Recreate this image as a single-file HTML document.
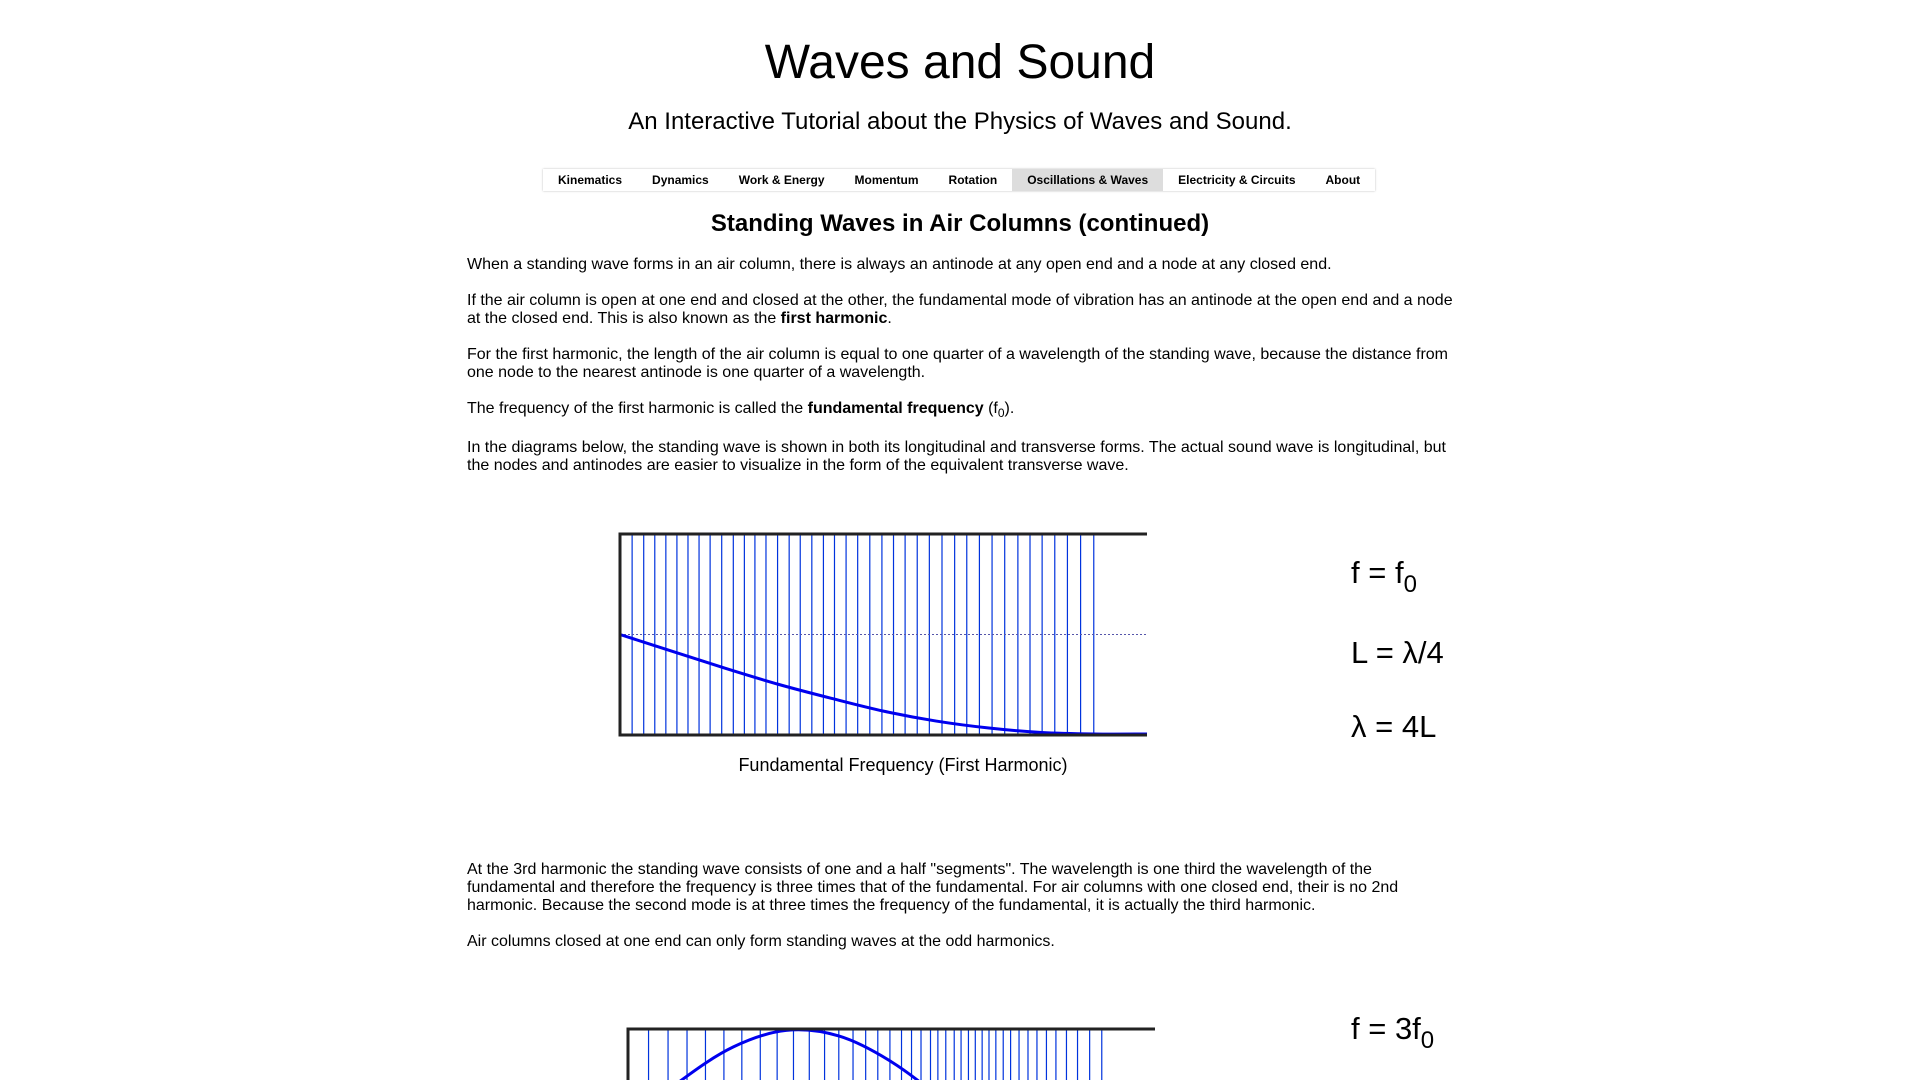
<!DOCTYPE html>
<html><head><meta charset="utf-8">
<style>
html,body{margin:0;padding:0;width:1920px;height:1080px;overflow:hidden;background:#fff;font-family:"Liberation Sans",sans-serif;color:#000}
.a{position:absolute}
h1{position:absolute;left:0;width:1920px;top:33px;margin:0;text-align:center;font-weight:normal;font-size:48px;line-height:60px}
.sub{left:0;width:1920px;top:107px;text-align:center;font-size:24px;line-height:30px}
.nav{left:543px;top:169px;height:22px;width:832px;box-shadow:0 0 2px #bbb;display:flex;font-size:12px;font-weight:bold;line-height:22px;overflow:hidden}
.nav div{padding:0 15px;white-space:nowrap}
.nav .on{background:#ddd}
h2{position:absolute;left:0;width:1920px;top:209px;margin:0;text-align:center;font-size:24px;line-height:30px}
.p{left:467px;width:990px;font-size:16px;line-height:18px}
.f{left:1351px;font-size:31px;line-height:34px}
.f sub{font-size:24px;vertical-align:-9px;line-height:0}
.p sub{font-size:12px;line-height:0}
</style></head><body>
<h1>Waves and Sound</h1>
<div class="a sub">An Interactive Tutorial about the Physics of Waves and Sound.</div>
<div class="a nav">
<div>Kinematics</div>
<div>Dynamics</div>
<div>Work &amp; Energy</div>
<div>Momentum</div>
<div>Rotation</div>
<div class="on">Oscillations &amp; Waves</div>
<div>Electricity &amp; Circuits</div>
<div>About</div>
</div>
<h2>Standing Waves in Air Columns (continued)</h2>
<div class="a p" style="top:256px">When a standing wave forms in an air column, there is always an antinode at any open end and a node at any closed end.</div>
<div class="a p" style="top:292px">If the air column is open at one end and closed at the other, the fundamental mode of vibration has an antinode at the open end and a node at the closed end. This is also known as the <b>first harmonic</b>.</div>
<div class="a p" style="top:346px">For the first harmonic, the length of the air column is equal to one quarter of a wavelength of the standing wave, because the distance from one node to the nearest antinode is one quarter of a wavelength.</div>
<div class="a p" style="top:400px">The frequency of the first harmonic is called the <b>fundamental frequency</b> (f<sub>0</sub>).</div>
<div class="a p" style="top:439px">In the diagrams below, the standing wave is shown in both its longitudinal and transverse forms. The actual sound wave is longitudinal, but the nodes and antinodes are easier to visualize in the form of the equivalent transverse wave.</div>
<div class="a f" style="top:556px">f = f<sub>0</sub></div>
<div class="a f" style="top:636px">L = λ/4</div>
<div class="a f" style="top:710px">λ = 4L</div>
<div class="a" style="left:0;width:1806px;top:754px;text-align:center;font-size:18px;line-height:22px">Fundamental Frequency (First Harmonic)</div>
<div class="a p" style="top:861px">At the 3rd harmonic the standing wave consists of one and a half "segments". The wavelength is one third the wavelength of the fundamental and therefore the frequency is three times that of the fundamental. For air columns with one closed end, their is no 2nd harmonic. Because the second mode is at three times the frequency of the fundamental, it is actually the third harmonic.</div>
<div class="a p" style="top:933px">Air columns closed at one end can only form standing waves at the odd harmonics.</div>
<div class="a f" style="top:1012px">f = 3f<sub>0</sub></div>
<svg class="a" style="left:0;top:0" width="1920" height="1080" id="svg"></svg>
<script>
// Diagram 1 (first harmonic): longitudinal line positions (% of column) and transverse displacement samples
const lines1 = [2.3,4.5,6.6,8.7,10.8,12.9,15.0,17.1,19.3,21.5,23.6,25.6,27.7,29.9,32.1,34.2,36.4,38.6,40.7,42.9,45.1,47.4,49.7,51.9,54.1,56.4,58.7,61.1,63.5,65.8,68.2,70.6,73.0,75.5,77.8,80.1,82.5,84.9,87.4,89.9];
const wave1X = [0,10,20,30,40,50,60,70,80,90,100];
const wave1Y = [0,-0.17,-0.34,-0.5,-0.64,-0.77,-0.87,-0.94,-0.985,-1,-1];
// Diagram 2 (third harmonic)
const lines2 = [3.9,7.6,11.2,14.7,18.2,21.6,25.1,28.3,31.4,34.4,37.3,40.0,42.7,45.1,47.4,49.7,51.9,53.8,55.6,57.4,58.8,60.3,61.9,63.2,64.6,65.9,67.2,68.5,69.8,71.2,72.6,74.2,75.9,77.6,79.4,81.2,83.2,85.3,87.6,89.9];
const wave2X = [0,10,20,30,40,50,60,70,80,90,100];
const wave2Y = [0.047,0.49,0.83,0.996,0.94,0.68,0.28,-0.19,-0.61,-0.90,-1.0];

const NS='http://www.w3.org/2000/svg';
const svg=document.getElementById('svg');
function el(t,a){const e=document.createElementNS(NS,t);for(const k in a)e.setAttribute(k,a[k]);svg.appendChild(e);return e;}
function smooth(pts){let d='M'+pts[0][0]+','+pts[0][1];for(let i=0;i<pts.length-1;i++){const p0=pts[Math.max(0,i-1)],p1=pts[i],p2=pts[i+1],p3=pts[Math.min(pts.length-1,i+2)];const c1=[p1[0]+(p2[0]-p0[0])/6,p1[1]+(p2[1]-p0[1])/6],c2=[p2[0]-(p3[0]-p1[0])/6,p2[1]-(p3[1]-p1[1])/6];d+=' C'+c1+' '+c2+' '+p2;}return d;}
function diagram(cfg,lines,wx,wy,name){
  const xs=v=>cfg.x0+v/100*(cfg.x1-cfg.x0);
  const mid=(cfg.top+cfg.bot)/2,amp=(cfg.bot-cfg.top)/2-1;
  const ys=v=>mid-v*amp;
  lines.forEach((v,i)=>{const l=el('line',{x1:xs(v),x2:xs(v),y1:cfg.top,y2:cfg.bot,stroke:'#0033dd','stroke-width':1.2});
    
    });
  const m=el('line',{x1:cfg.x0,x2:cfg.x1,y1:mid,y2:mid,stroke:'#5555aa','stroke-width':1,'stroke-dasharray':'2,2'});
  
  
  const p=el('path',{d:smooth(wx.map((x,i)=>[xs(x),ys(wy[i])])),fill:'none',stroke:'#0000ee','stroke-width':3});
  
  
  const b=el('path',{d:`M${cfg.x1},${cfg.top} H${cfg.x0} V${cfg.bot} H${cfg.x1}`,fill:'none',stroke:'#222','stroke-width':3});
  
  
}
diagram({x0:620,x1:1147,top:534,bot:735},lines1,wave1X,wave1Y,'first-harmonic');
diagram({x0:628,x1:1155,top:1029,bot:1230},lines2,wave2X,wave2Y,'third-harmonic');
</script>
</body></html>
